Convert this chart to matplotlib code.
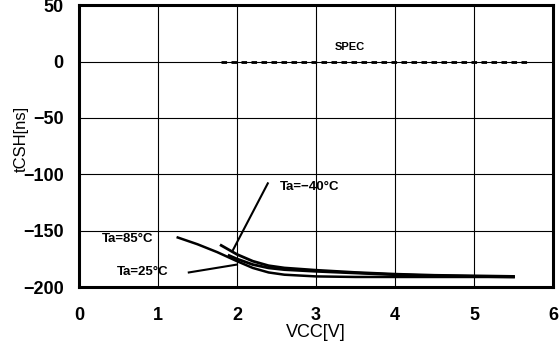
import matplotlib
matplotlib.use("Agg")
import matplotlib.pyplot as plt

plt.rcParams['font.family'] = ['Liberation Sans', 'DejaVu Sans']

x_85 = [1.25, 1.5, 1.75, 2.0, 2.2, 2.4, 2.6, 3.0, 3.5, 4.0, 4.5, 5.0, 5.5]
y_85 = [-156, -162, -169, -177, -183, -187, -189, -190.5, -191, -191, -191, -191, -191]
x_m40 = [1.8, 2.0, 2.2, 2.4, 2.6, 3.0, 3.5, 4.0, 4.5, 5.0, 5.5]
y_m40 = [-163, -171, -177, -181, -183, -185, -187, -188.5, -189.5, -190, -190.5]
x_25 = [1.9, 2.0, 2.2, 2.4, 2.6, 3.0, 3.5, 4.0, 4.5, 5.0, 5.5]
y_25 = [-172, -175, -180, -183, -184.5, -186, -187.5, -189, -190, -190.5, -191]
spec_x = [1.8, 5.7]
spec_y = [0, 0]
xticks = [0, 1, 2, 3, 4, 5, 6]
yticks = [50, 0, -50, -100, -150, -200]

fig = plt.figure(figsize=(5.59, 3.41), dpi=100)
ax = fig.add_axes([0.1413, 0.158, 0.848, 0.827])
ax.set_xlim(0, 6)
ax.set_ylim(-200, 50)
ax.set_xticks(xticks)
ax.set_yticks(yticks)
ax.set_yticklabels(['50', '0', '\u221250', '\u2212100', '\u2212150', '\u2212200'])
ax.grid(True, color='black', lw=0.8)
ax.tick_params(length=0, labelsize=13)
ax.tick_params(axis='x', pad=14)
ax.tick_params(axis='y', pad=11)
for lab in ax.get_xticklabels() + ax.get_yticklabels():
    lab.set_fontweight('bold')
for s in ax.spines.values():
    s.set_linewidth(2.2)

ax.plot(spec_x, spec_y, color='black', lw=2, ls=(0, (2, 1.6)))
ax.plot(x_85, y_85, color='black', lw=1.8)
ax.plot(x_m40, y_m40, color='black', lw=2.0)
ax.plot(x_25, y_25, color='black', lw=2.0)

ax.text(3.24, 12.8, 'SPEC', fontsize=8, fontweight='bold', va='center')
ax.text(2.54, -111, 'Ta=\u221240\u00b0C', fontsize=9.5, fontweight='bold', va='center')
ax.plot([2.39, 1.95], [-108, -167], color='black', lw=1.5)
ax.text(0.29, -157.5, 'Ta=85\u00b0C', fontsize=9.5, fontweight='bold', va='center')
ax.text(0.48, -186.7, 'Ta=25\u00b0C', fontsize=9.5, fontweight='bold', va='center')
ax.plot([1.39, 2.0], [-187, -180], color='black', lw=1.5)

ax.set_xlabel('VCC[V]', fontsize=13, labelpad=0)
ax.set_ylabel('tCSH[ns]', fontsize=12)
ax.yaxis.set_label_coords(-0.106, 0.525)

fig.savefig('out.png', dpi=100)
